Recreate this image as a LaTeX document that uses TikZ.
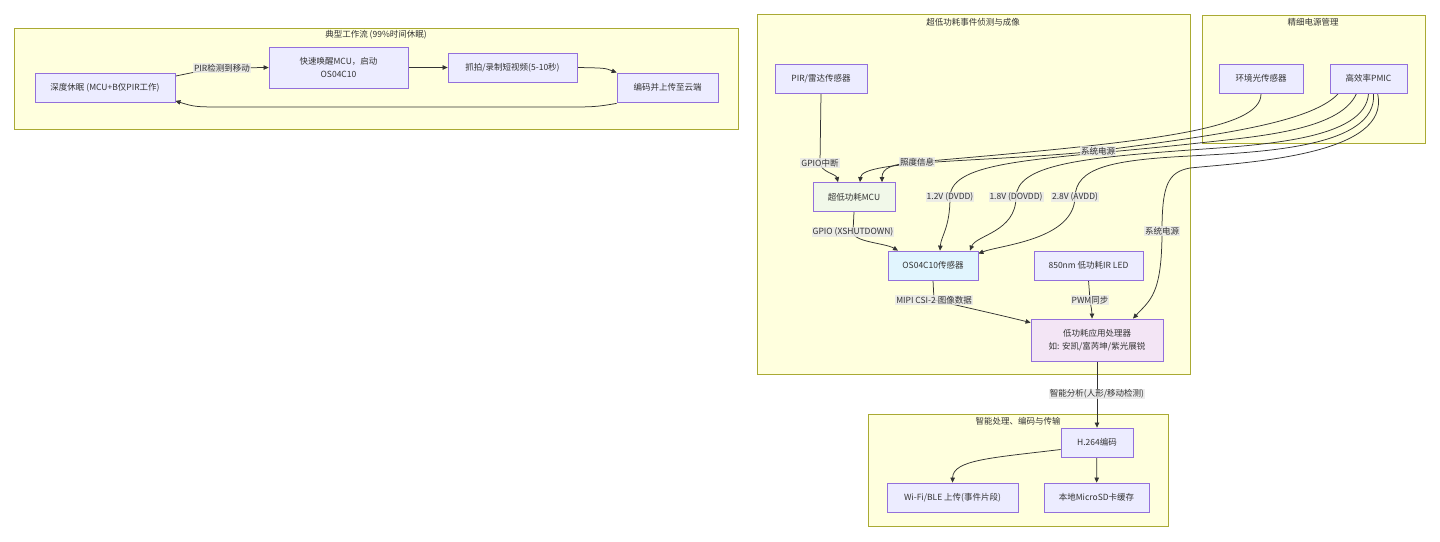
\documentclass[tikz,border=0pt]{standalone}
\usepackage{fontspec}
\setmainfont{Noto Sans CJK SC}
\usetikzlibrary{arrows.meta,backgrounds}
\definecolor{grpfill}{HTML}{FFFFDE}
\definecolor{grpline}{HTML}{AAAA33}
\definecolor{nodefill}{HTML}{ECECFF}
\definecolor{nodeline}{HTML}{9370DB}
\definecolor{mcufill}{HTML}{F1F8E9}
\definecolor{camfill}{HTML}{E1F5FE}
\definecolor{apfill}{HTML}{F3E5F5}
\definecolor{lblfill}{HTML}{E8E8E8}
\definecolor{ink}{HTML}{333333}
\begin{document}
\begin{tikzpicture}[x=1pt,y=-1pt,
        box/.style={draw=nodeline,fill=nodefill,line width=0.8pt,minimum height=29pt,inner sep=2pt,
          align=center,text=ink,font=\fontsize{8.5}{12.5}\selectfont},
        grp/.style={draw=grpline,fill=grpfill,line width=0.7pt},
        ttl/.style={text=ink,font=\fontsize{8.5}{12.5}\selectfont},
        lbl/.style={fill=lblfill,fill opacity=0.8,text opacity=1,inner sep=1pt,text=ink,
          font=\fontsize{8.5}{12.5}\selectfont},
        flow/.style={draw=ink,line width=0.75pt,-{Triangle[length=5pt,width=4.5pt]}}]
        \useasboundingbox (0,0) rectangle (1440,541);
        \node[ttl] (tflow) at (376,35) {典型工作流 (99\%时间休眠)};
        \node[ttl] (tdetect) at (973,22) {超低功耗事件侦测与成像};
        \node[ttl] (tpower) at (1313,22) {精细电源管理};
        \node[ttl] (tproc) at (1018,421) {智能处理、编码与传输};
        \node[box,minimum width=140pt] (sleep) at (105,88) {深度休眠 (MCU+B仅PIR工作)};
        \node[box,minimum width=139pt,minimum height=41pt] (wake) at (338.5,67.5) {快速唤醒MCU，启动\\OS04C10};
        \node[box,minimum width=129pt] (capture) at (512.5,67.5) {抓拍/录制短视频(5-10秒)};
        \node[box,minimum width=101pt] (upload) at (667.5,87.5) {编码并上传至云端};
        \node[box,minimum width=92pt] (pir) at (821,78.5) {PIR/雷达传感器};
        \node[box,minimum width=84pt] (als) at (1261,78.5) {环境光传感器};
        \node[box,minimum width=77pt] (pmic) at (1368.5,78.5) {高效率PMIC};
        \node[box,minimum width=82pt,fill=mcufill] (mcu) at (854,197) {超低功耗MCU};
        \node[box,minimum width=90pt,fill=camfill] (sensor) at (933,265.5) {OS04C10传感器};
        \node[box,minimum width=109pt] (led) at (1088.5,265.5) {850nm 低功耗IR LED};
        \node[box,minimum width=132pt,minimum height=42pt,fill=apfill] (ap) at (1097,340) {低功耗应用处理器\\如: 安凯/富芮坤/紫光展锐};
        \node[box,minimum width=72pt] (h264) at (1097,442.5) {H.264编码};
        \node[box,minimum width=131pt] (wifi) at (952.5,497.5) {Wi-Fi/BLE 上传(事件片段)};
        \node[box,minimum width=105pt] (sd) at (1096.5,497.5) {本地MicroSD卡缓存};
        \node[lbl] (lmove) at (222,68) {PIR检测到移动};
        \node[lbl] (lgpio) at (820,163) {GPIO中断};
        \node[lbl] (llux) at (917,162) {照度信息};
        \node[lbl] (lsys) at (1098,151) {系统电源};
        \node[lbl] (ldv) at (950,197) {1.2V (DVDD)};
        \node[lbl] (ldov) at (1016,197) {1.8V (DOVDD)};
        \node[lbl] (lav) at (1075,197) {2.8V (AVDD)};
        \node[lbl] (lsys2) at (1162,231) {系统电源};
        \node[lbl] (lxs) at (853,232) {GPIO (XSHUTDOWN)};
        \node[lbl] (lmipi) at (934,300) {MIPI CSI-2 图像数据};
        \node[lbl] (lpwm) at (1090,300) {PWM同步};
        \node[lbl] (lai) at (1097,394) {智能分析(人形/移动检测)};
        \begin{scope}[on background layer]
          \foreach \a/\b/\c/\d in {14/28/738/129,757/14/1190/374,1202/15/1425/143,868/414/1168/526} {
              \draw[grp] (\a,\b) rectangle (\c,\d);
            }
          \foreach \a/\b in {wake/capture,ap/h264,h264/sd} {
              \draw[flow] (\a) -- (\b);
            }
          \draw[flow] ([yshift=-3pt]sleep.north east) .. controls (200,71) .. (lmove.center) -- (wake.west);
          \draw[flow] (capture.east) .. controls (605,68) .. (upload.north west);
          \draw[flow] ([yshift=-1pt]upload.south west) .. controls (595,107) .. (560,107) -- (230,107)
            .. controls (195,107) .. ([yshift=2pt]sleep.south east);
          \draw[flow] (pir.south) -- (lgpio.center) .. controls (821,172) and (836,174) .. ([xshift=-16pt]mcu.north);
          \draw[flow] (als.south) .. controls (1262,130) and (1150,142) .. (llux.center)
            .. controls (892,164) and (882,168) .. ([xshift=28pt]mcu.north);
          \draw[flow] ([xshift=-30pt]pmic.south) .. controls (1310,125) and (1200,137) .. (lsys.center)
            .. controls (990,162) and (862,160) .. ([xshift=6pt]mcu.north);
          \draw[flow] ([xshift=-12pt]pmic.south) .. controls (1340,132) and (1250,137) .. (1190,144)
            .. controls (1040,160) and (951,160) .. (ldv.center)
            .. controls (950,228) and (941,236) .. ([xshift=7pt]sensor.north);
          \draw[flow] (pmic.south) .. controls (1366,140) and (1260,145) .. (1190,150)
            .. controls (1080,158) and (1017,165) .. (ldov.center)
            .. controls (1016,232) and (976,235) .. ([xshift=37pt]sensor.north);
          \draw[flow] ([xshift=5pt]pmic.south) .. controls (1378,148) and (1260,152) .. (1190,156)
            .. controls (1110,160) and (1076,168) .. (lav.center)
            .. controls (1074,240) and (1000,245) .. ([yshift=-3pt]sensor.north east);
          \draw[flow] ([xshift=9pt]pmic.south) .. controls (1392,155) and (1250,162) .. (1190,168)
            .. controls (1168,172) and (1162,185) .. (lsys2.center)
            .. controls (1162,295) and (1150,300) .. ([xshift=36pt]ap.north);
          \draw[flow] (mcu.south) -- (lxs.center) .. controls (853,242) and (885,243) .. ([xshift=-35pt]sensor.north);
          \draw[flow] (sensor.south) .. controls (933,290) .. (lmipi.center)
            .. controls (960,306) and (1000,315) .. ([yshift=-4pt]ap.north west);
          \draw[flow] (led.south) -- (lpwm.center) .. controls (1091,308) and (1092,310) .. ([xshift=-5pt]ap.north);
          \draw[flow] ([yshift=-7pt]h264.west) .. controls (990,458) and (953,460) .. (wifi.north);
        \end{scope}
      \end{tikzpicture}
\end{document}
